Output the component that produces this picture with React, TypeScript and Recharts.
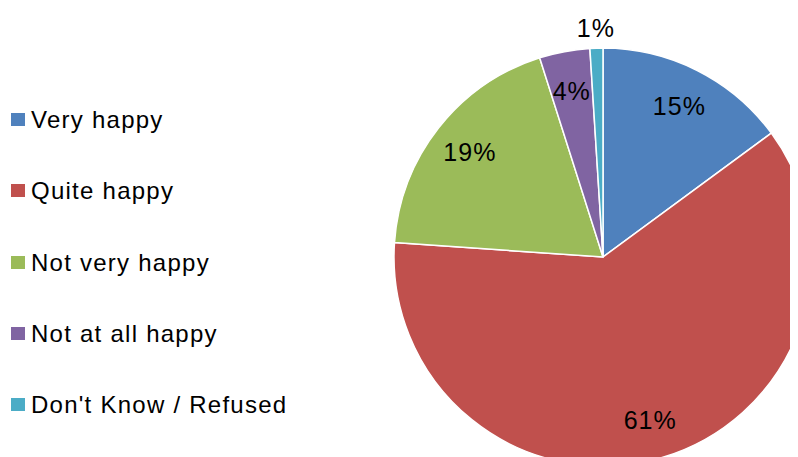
import React from "react";
import { PieChart, Pie, Cell, Legend } from "recharts";

const categories = ["Very happy", "Quite happy", "Not very happy", "Not at all happy", "Don't Know / Refused"];
const shares = [14.9, 61.2, 19.0, 3.9, 1.0];
const colors = ["#4F81BD", "#C0504D", "#9BBB59", "#8064A2", "#4BACC6"];

const data = categories.map((name, i) => ({ name, value: shares[i] }));

const RAD = Math.PI / 180;
const FONT = "'Liberation Sans', Arial, sans-serif";

const renderLabel = (props: any) => {
  const { cx, cy, midAngle, outerRadius, percent, index } = props;
  const r = percent < 0.02 ? outerRadius + 20 : outerRadius * 0.81;
  const x = cx + r * Math.cos(-midAngle * RAD);
  const y = cy + r * Math.sin(-midAngle * RAD);
  return (
    <text
      key={`lbl-${index}`}
      x={x}
      y={y}
      fill="#000"
      textAnchor="middle"
      dominantBaseline="central"
      style={{ fontFamily: FONT, fontSize: 25, letterSpacing: 1 }}
    >
      {`${Math.round(percent * 100)}%`}
    </text>
  );
};

const renderLegend = () => (
  <div style={{ position: "relative", width: 300, height: 449, fontFamily: FONT }}>
    {categories.map((name, i) => {
      const yc = 112 + i * 71.3;
      return (
        <div key={name}>
          <div
            style={{
              position: "absolute",
              left: 3,
              top: yc - 7,
              width: 14,
              height: 13,
              background: colors[i],
            }}
          />
          <div
            style={{
              position: "absolute",
              left: 23,
              top: yc - 15,
              height: 30,
              lineHeight: "30px",
              fontSize: 24,
              letterSpacing: 1.25,
              color: "#000",
              whiteSpace: "nowrap",
            }}
          >
            {name}
          </div>
        </div>
      );
    })}
  </div>
);

export default function App() {
  return (
    <div style={{ width: 790, height: 449, background: "#fff" }}>
      <PieChart width={790} height={449} margin={{ top: 0, right: 0, bottom: 0, left: 0 }}>
        <Pie
          data={data}
          dataKey="value"
          nameKey="name"
          cx={595}
          cy={249}
          outerRadius={209}
          startAngle={90}
          endAngle={-270}
          stroke="#fff"
          strokeWidth={1.5}
          label={renderLabel}
          labelLine={false}
          isAnimationActive={false}
        >
          {data.map((d, i) => (
            <Cell key={d.name} fill={colors[i]} />
          ))}
        </Pie>
        <Legend
          content={renderLegend}
          wrapperStyle={{ position: "absolute", left: 0, top: 0, width: 300, height: 449 }}
        />
      </PieChart>
    </div>
  );
}
